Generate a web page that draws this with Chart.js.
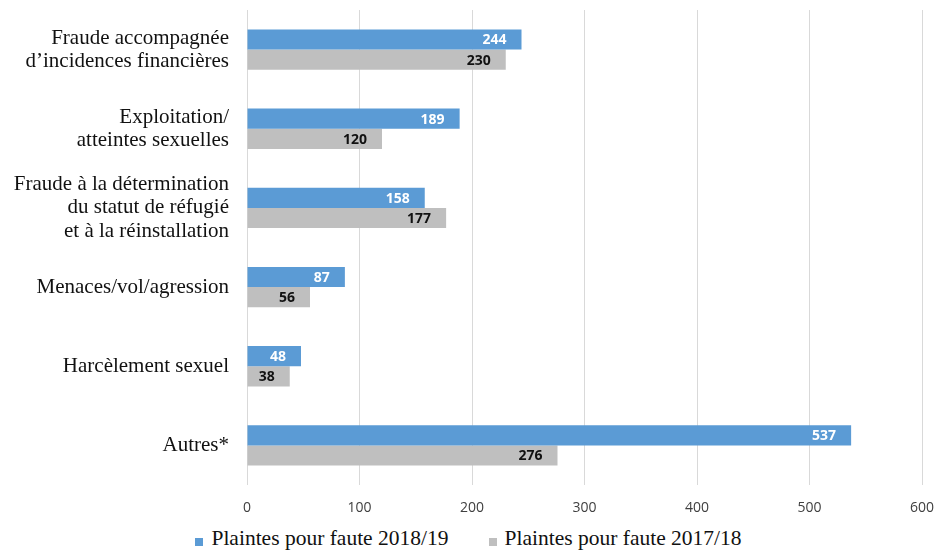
<!DOCTYPE html>
<html>
<head>
<meta charset="utf-8">
<script src="https://cdn.jsdelivr.net/npm/chart.js@4"></script>
<style>
  html, body { margin: 0; padding: 0; background: #fff; }
  #wrap { width: 937px; height: 525px; }
  #legend {
    width: 937px; height: 26px; margin: 0; padding: 0;
    display: flex; justify-content: center; align-items: center;
    font-family: "Liberation Serif", serif; font-size: 21.5px; color: #111;
  }
  #legend span.item { display: inline-flex; align-items: center; white-space: nowrap; }
  #legend span.item + span.item { margin-left: 40px; }
  #legend i { display: inline-block; width: 8px; height: 8px; margin-right: 8px; margin-top: 7px; }
</style>
</head>
<body>
<div id="wrap"><canvas id="chart"></canvas></div>
<div id="legend"></div>
<script>
const categories = [
  ["Fraude accompagnée", "d\u2019incidences financières"],
  ["Exploitation/", "atteintes sexuelles"],
  ["Fraude à la détermination", "du statut de réfugié", "et à la réinstallation"],
  "Menaces/vol/agression",
  "Harcèlement sexuel",
  "Autres*",
];
const plaintes2019 = [244, 189, 158, 87, 48, 537];
const plaintes2018 = [230, 120, 177, 56, 38, 276];
const seriesNames = ["Plaintes pour faute 2018/19", "Plaintes pour faute 2017/18"];
const xTicks = [0, 100, 200, 300, 400, 500, 600];

const blue = "#5B9BD5";
const grey = "#BFBFBF";

// values written inside the end of each bar
const barLabels = {
  id: "barLabels",
  afterDatasetsDraw(chart) {
    const ctx = chart.ctx;
    ctx.save();
    ctx.font = "bold 14px 'Open Sans', sans-serif";
    ctx.textAlign = "right";
    ctx.textBaseline = "middle";
    chart.data.datasets.forEach((ds, i) => {
      const meta = chart.getDatasetMeta(i);
      meta.data.forEach((bar, j) => {
        ctx.fillStyle = i === 0 ? "#ffffff" : "#111111";
        ctx.fillText(ds.data[j], bar.x - 15, bar.y + 1);
      });
    });
    ctx.restore();
  },
};

const chart = new Chart(document.getElementById("chart"), {
  type: "bar",
  data: {
    labels: categories,
    datasets: [
      {
        label: seriesNames[0],
        data: plaintes2019,
        backgroundColor: blue,
        barPercentage: 1,
        categoryPercentage: 0.51,
      },
      {
        label: seriesNames[1],
        data: plaintes2018,
        backgroundColor: grey,
        barPercentage: 1,
        categoryPercentage: 0.51,
      },
    ],
  },
  options: {
    indexAxis: "y",
    responsive: true,
    maintainAspectRatio: false,
    animation: false,
    layout: { padding: { top: 10, right: 15, bottom: 0, left: 0 } },
    plugins: {
      legend: { display: false },
      tooltip: { enabled: false },
    },
    scales: {
      x: {
        min: 0,
        max: 600,
        afterBuildTicks: (scale) => {
          scale.ticks = xTicks.map((v) => ({ value: v }));
        },
        afterFit: (scale) => {
          scale.paddingLeft = 0;
          scale.paddingRight = 0;
          scale.height = 40;
        },
        grid: { color: "#D9D9D9", drawTicks: false },
        border: { display: false },
        ticks: {
          color: "#404040",
          padding: 15,
          font: { family: "'Open Sans', sans-serif", size: 14 },
        },
      },
      y: {
        afterFit: (scale) => {
          scale.width = 247;
          scale.paddingTop = 0;
          scale.paddingBottom = 0;
        },
        grid: { display: false },
        border: { display: false },
        ticks: {
          color: "#111",
          padding: 10,
          autoSkip: false,
          font: { family: "'Liberation Serif', serif", size: 21, lineHeight: 1.1 },
        },
      },
    },
  },
  plugins: [barLabels],
});

// legend below the canvas
const legendColors = [blue, grey];
document.getElementById("legend").innerHTML = seriesNames
  .map((name, i) => `<span class="item"><i style="background:${legendColors[i]}"></i>${name}</span>`)
  .join("");
</script>
</body>
</html>
